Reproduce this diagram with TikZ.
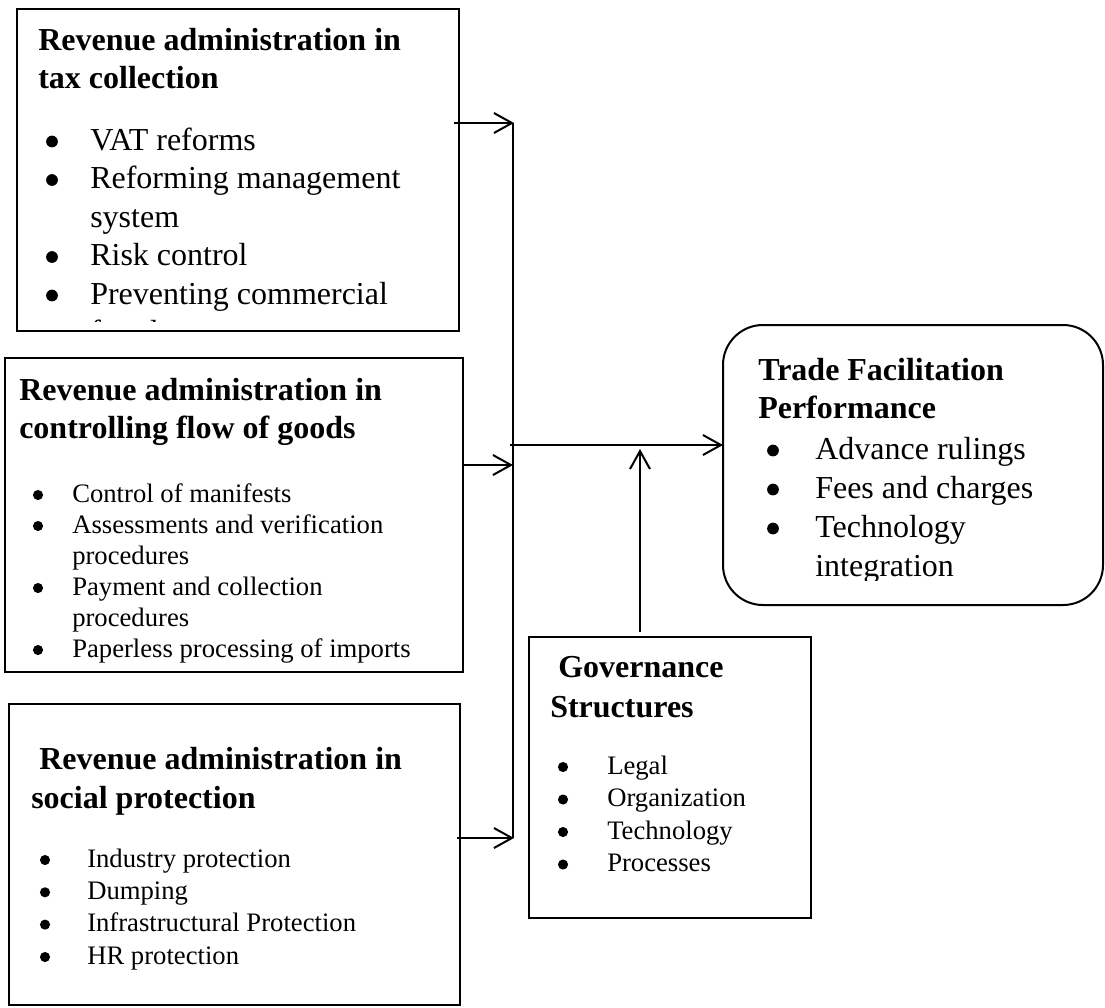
\documentclass[tikz,border=0pt]{standalone}
\usepackage{fontspec}
\setmainfont{Liberation Serif}
\usetikzlibrary{arrows.meta}
\tikzset{
  box/.style={draw, line width=1.5pt, inner sep=0pt, outer sep=0pt},
  ttl/.style={anchor=base west, inner sep=0pt, font=\fontsize{24pt}{28pt}\selectfont\bfseries},
  big/.style={anchor=base west, inner sep=0pt, font=\fontsize{24pt}{28pt}\selectfont},
  sml/.style={anchor=base west, inner sep=0pt, font=\fontsize{20pt}{24pt}\selectfont},
  arr/.style={line width=1.5pt, -{Straight Barb[length=13.5pt,width=15pt,line width=1.5pt]}},
  thin/.style={line width=0.8pt}
}
\newcommand{\bigbul}[2]{\fill (#1,#2-8.5) circle (4.4pt);}
\newcommand{\smlbul}[2]{\fill (#1,#2-7) circle (3.8pt);}
\begin{document}
\begin{tikzpicture}[x=0.75pt,y=-0.75pt]
\useasboundingbox (0,0) rectangle (1105,1007);

% boxes
\node[box, minimum width=331.5pt, minimum height=241.5pt] (b1) at (238,170) {};
\node[box, minimum width=343.5pt, minimum height=235.5pt] (b2) at (234,515) {};
\node[box, minimum width=338.25pt, minimum height=225.75pt] (b3) at (234.5,854.5) {};
\node[box, minimum width=211.5pt, minimum height=210.75pt] (gov) at (670,777.5) {};
\node[box, rounded corners=30pt, minimum width=285pt, minimum height=210pt] (tf) at (913,465) {};

% box 1 text (clipped)
\begin{scope}
\clip (17,9) rectangle (459,321);
\node[ttl] (b1t1) at (38,50) {Revenue administration in};
\node[ttl] (b1t2) at (38,88) {tax collection};
\bigbul{52}{150}\node[big] (b1i1) at (90,150) {VAT reforms};
\bigbul{52}{188.5}\node[big] (b1i2) at (90,188.5) {Reforming management};
\node[big] (b1i2b) at (90,227) {system};
\bigbul{52}{265.5}\node[big] (b1i3) at (90,265.5) {Risk control};
\bigbul{52}{304}\node[big] (b1i4) at (90,304) {Preventing commercial};
\node[big] (b1i4b) at (90,342.5) {fraud};
\end{scope}

% box 2 text
\node[ttl] (b2t1) at (19,400) {Revenue administration in};
\node[ttl] (b2t2) at (19,438) {controlling flow of goods};
\smlbul{38}{502}\node[sml] (b2i1) at (72,502) {Control of manifests};
\smlbul{38}{533}\node[sml] (b2i2) at (72,533) {Assessments and verification};
\node[sml] (b2i2b) at (72,564) {procedures};
\smlbul{38}{595}\node[sml] (b2i3) at (72,595) {Payment and collection};
\node[sml] (b2i3b) at (72,626) {procedures};
\smlbul{38}{657}\node[sml] (b2i4) at (72,657) {Paperless processing of imports};

% box 3 text
\node[ttl] (b3t1) at (39,769) {Revenue administration in};
\node[ttl] (b3t2) at (31,808) {social protection};
\smlbul{45}{867}\node[sml] (b3i1) at (87,867) {Industry protection};
\smlbul{45}{899.3}\node[sml] (b3i2) at (87,899.3) {Dumping};
\smlbul{45}{931.6}\node[sml] (b3i3) at (87,931.6) {Infrastructural Protection};
\smlbul{45}{964}\node[sml] (b3i4) at (87,964) {HR protection};

% governance text
\node[ttl] (gt1) at (558,677) {Governance};
\node[ttl] (gt2) at (550,717) {Structures};
\smlbul{563}{774}\node[sml] (gi1) at (607,774) {Legal};
\smlbul{563}{806.5}\node[sml] (gi2) at (607,806.5) {Organization};
\smlbul{563}{839}\node[sml] (gi3) at (607,839) {Technology};
\smlbul{563}{871.5}\node[sml] (gi4) at (607,871.5) {Processes};

% trade facilitation text (clipped)
\begin{scope}
\clip (723,325) rectangle (1103,580);
\node[ttl] (tt1) at (758,380) {Trade Facilitation};
\node[ttl] (tt2) at (758,418) {Performance};
\bigbul{773}{459}\node[big] (ti1) at (815,459) {Advance rulings};
\bigbul{773}{498}\node[big] (ti2) at (815,498) {Fees and charges};
\bigbul{773}{537}\node[big] (ti3) at (815,537) {Technology};
\node[big] (ti3b) at (815,576) {integration};
\end{scope}

% connectors
\coordinate (j1) at (514,123);
\coordinate (j2) at (513,465);
\coordinate (j3) at (514,838);
\coordinate (jm) at (510,445);
\coordinate (up) at (640,632);
\draw[thin] (513,123) -- (513,838);
\draw[arr] ([xshift=-4pt]b1.east |- j1) -- (j1);
\draw[arr] (b2.east |- j2) -- (j2);
\draw[arr] ([xshift=-2pt]b3.east |- j3) -- (j3);
\draw[arr] (jm) -- (tf.west |- jm);
\draw[arr] (up) -- (up |- 0,449);
\end{tikzpicture}
\end{document}
